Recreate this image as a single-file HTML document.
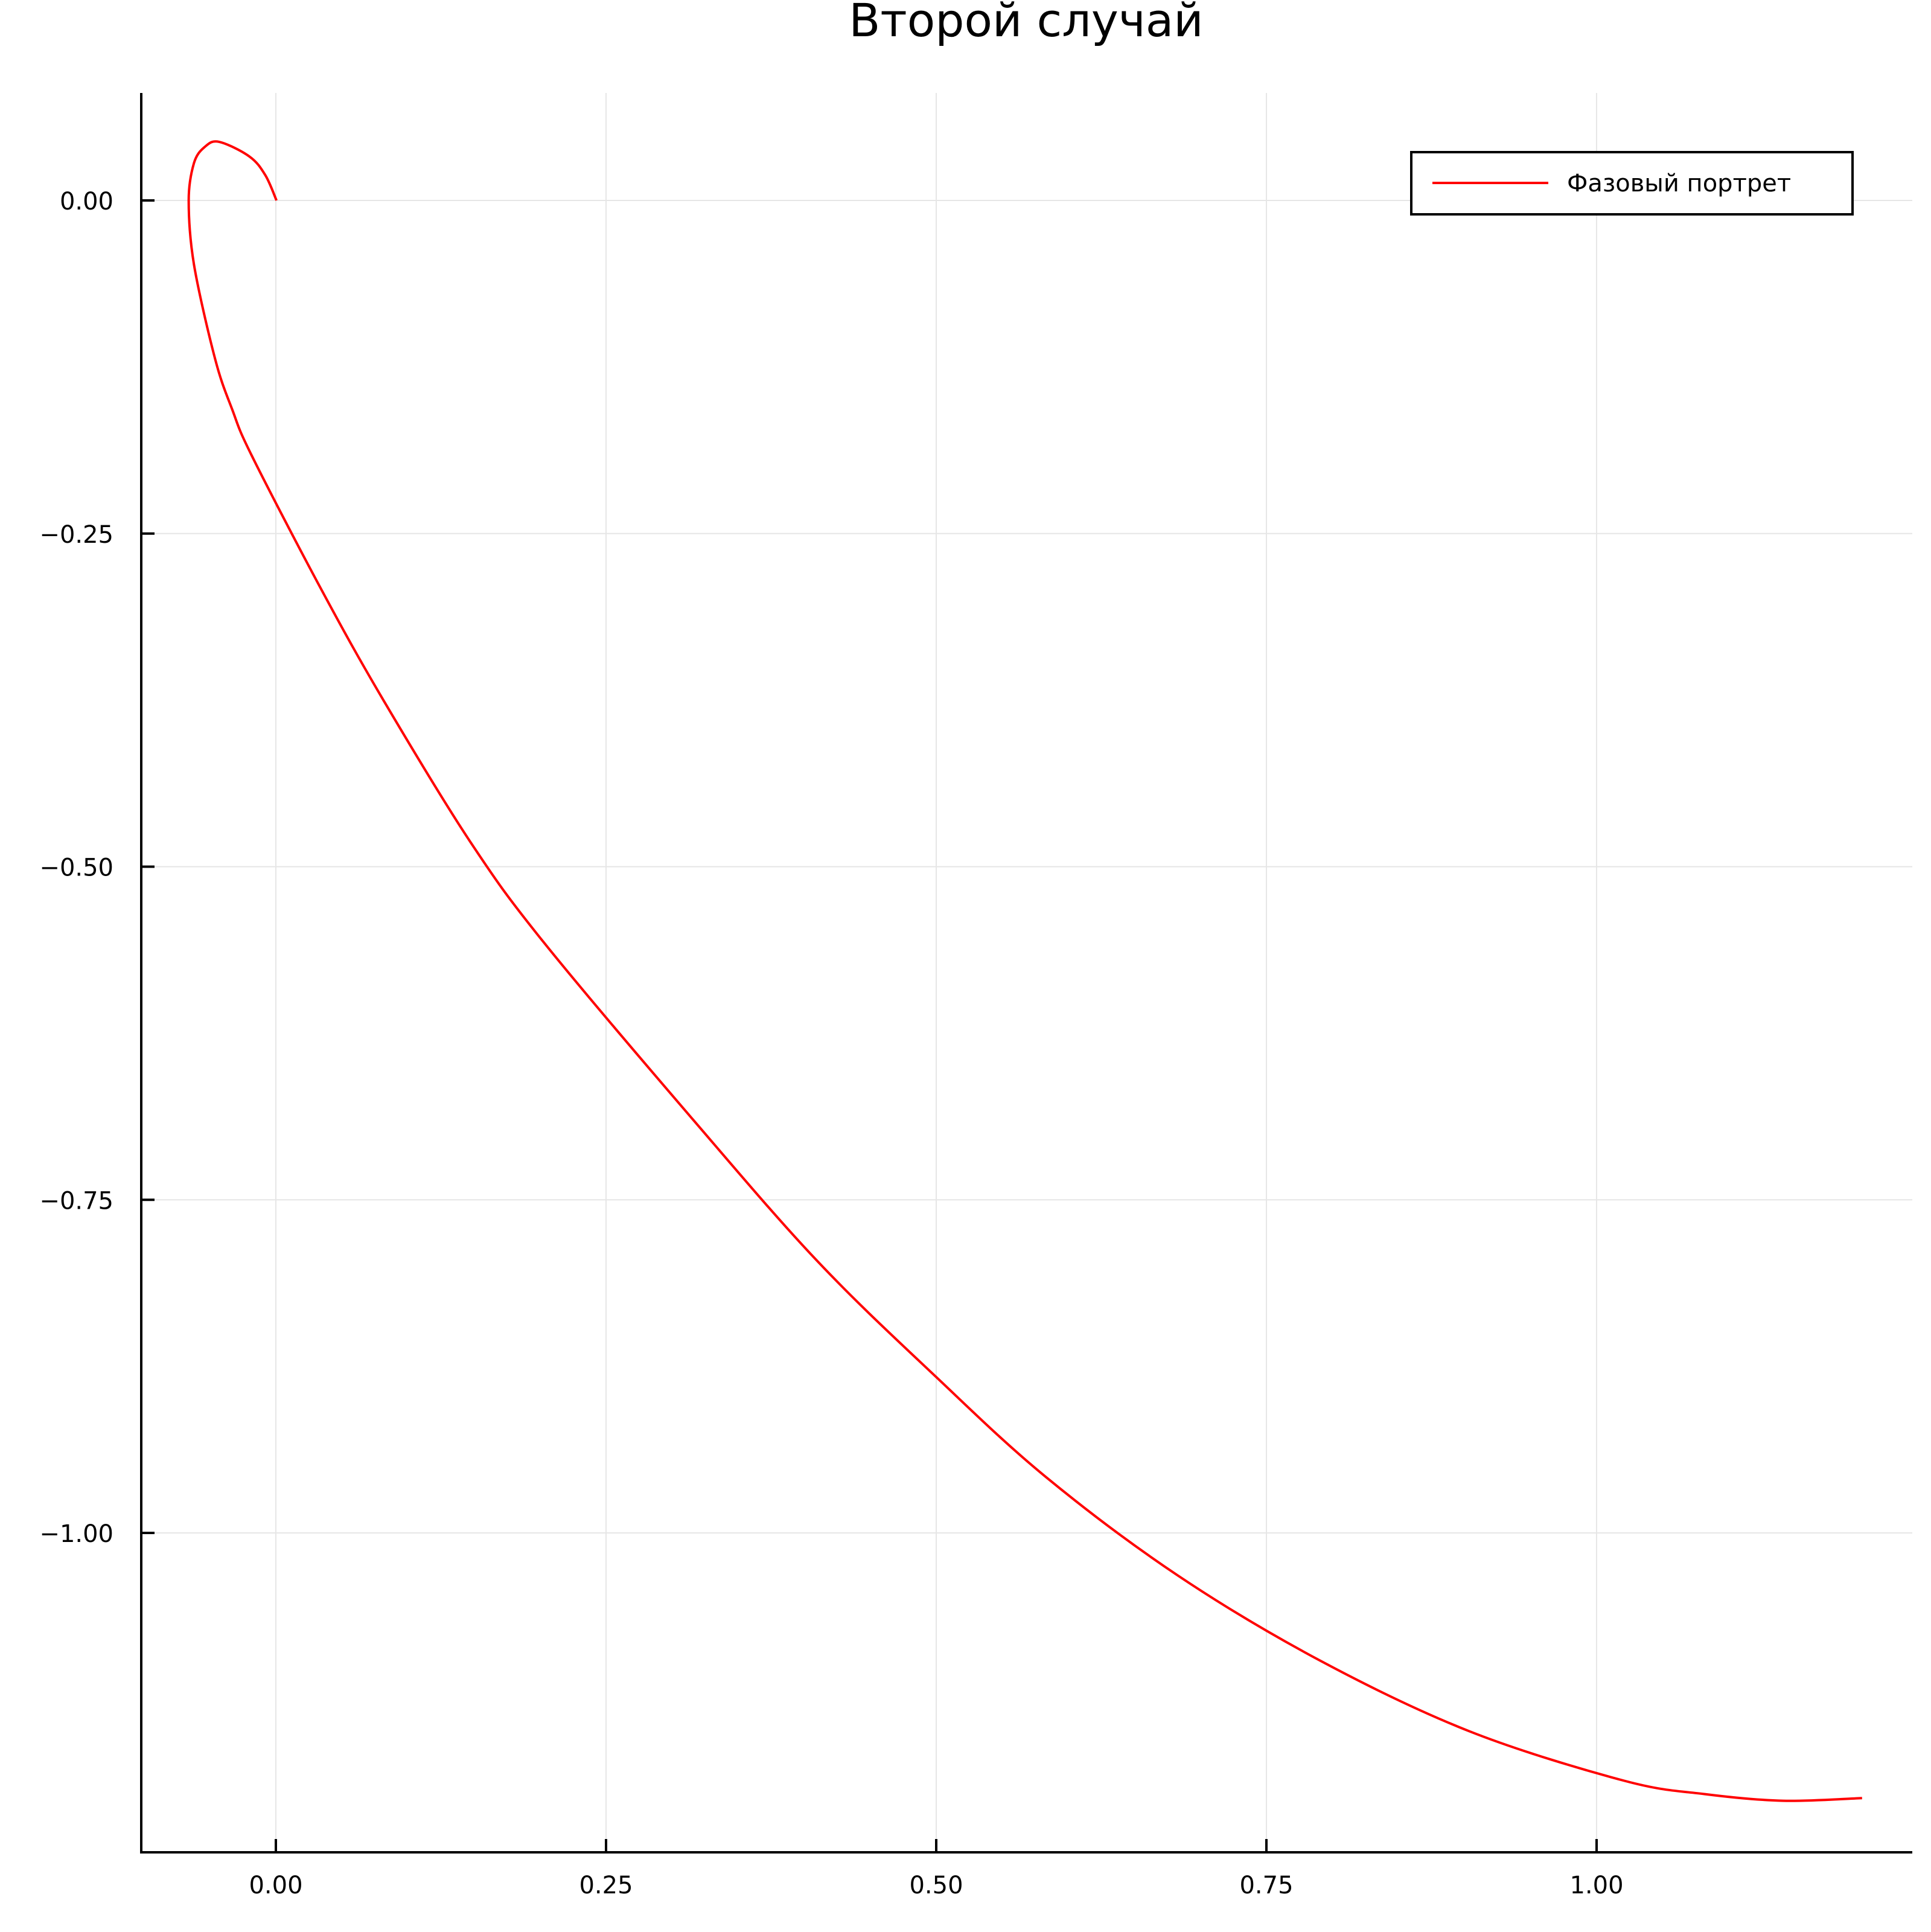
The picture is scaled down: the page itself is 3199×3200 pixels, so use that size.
<!DOCTYPE html>
<html><head><meta charset="utf-8"><style>
html,body{margin:0;padding:0;background:#fff}
svg{display:block}
text{font-family:"DejaVu Sans","Liberation Sans",sans-serif}
</style></head><body>
<svg id="chart" width="3199" height="3200" viewBox="0 0 3199 3200" xmlns="http://www.w3.org/2000/svg">
<rect width="3199" height="3200" fill="#fff"/>
<text x="1700" y="60" font-size="76" text-anchor="middle">Второй случай</text>
<g id="grid"></g>
<g id="axes"></g>
<path id="series" fill="none" stroke="#ff0000" stroke-width="4" stroke-linejoin="round"/>
<g>
<rect x="2338" y="252" width="731" height="103" fill="#fff" stroke="#000" stroke-width="4"/>
<line x1="2373" y1="303" x2="2565" y2="303" stroke="#ff0000" stroke-width="4"/>
<text x="2596" y="317" font-size="40">Фазовый портрет</text>
</g>
</svg>
<script>
const xTicks=[0,0.25,0.5,0.75,1.0];
const xTickLabels=["0.00","0.25","0.50","0.75","1.00"];
const yTicks=[0,-0.25,-0.5,-0.75,-1.0];
const yTickLabels=["0.00","\u22120.25","\u22120.50","\u22120.75","\u22121.00"];
const xs=[0.0005,-0.008,-0.020,-0.043,-0.054,-0.062,-0.066,-0.062,-0.046,-0.033,-0.018,0.035,0.082,0.147,0.203,0.316,0.410,0.500,0.583,0.683,0.791,0.904,1.021,1.082,1.141,1.201];
const ys=[0,0.019,0.033,0.044,0.040,0.028,0,-0.048,-0.119,-0.157,-0.192,-0.293,-0.376,-0.481,-0.557,-0.690,-0.796,-0.883,-0.958,-1.032,-1.096,-1.149,-1.186,-1.196,-1.201,-1.199];
const L=234,R=3168,T=154,B=3068;
const X=v=>457+v*2188;
const Y=v=>332-v*2207;
const NS="http://www.w3.org/2000/svg";
const grid=document.getElementById('grid'),axes=document.getElementById('axes');
function mk(tag,attrs,parent){const e=document.createElementNS(NS,tag);for(const k in attrs)e.setAttribute(k,attrs[k]);parent.appendChild(e);return e;}
xTicks.forEach((v,i)=>{
 const g=mk('line',{x1:X(v),x2:X(v),y1:T,y2:B,stroke:'#e6e6e6','stroke-width':2},grid);
 
 
 const t=mk('line',{x1:X(v),x2:X(v),y1:B,y2:B-22,stroke:'#000','stroke-width':4},axes);
 
 
 const l=mk('text',{x:X(v),y:B+68,'font-size':40,'text-anchor':'middle'},axes);
 l.textContent=xTickLabels[i];
 
 
});
yTicks.forEach((v,i)=>{
 const g=mk('line',{x1:L,x2:R,y1:Y(v),y2:Y(v),stroke:'#e6e6e6','stroke-width':2},grid);
 
 
 const t=mk('line',{x1:L,x2:L+22,y1:Y(v),y2:Y(v),stroke:'#000','stroke-width':4},axes);
 
 
 const l=mk('text',{x:L-46,y:Y(v)+15,'font-size':40,'text-anchor':'end'},axes);
 l.textContent=yTickLabels[i];
 
 
});
const ax=mk('path',{d:`M${L},${T} L${L},${B} L${R},${B}`,fill:'none',stroke:'#000','stroke-width':4},axes);


const P=xs.map((x,i)=>[X(x),Y(ys[i])]);
let d='M'+P[0][0].toFixed(1)+','+P[0][1].toFixed(1);
for(let i=0;i<P.length-1;i++){
 const p0=P[Math.max(i-1,0)],p1=P[i],p2=P[i+1],p3=P[Math.min(i+2,P.length-1)];
 const c1=[p1[0]+(p2[0]-p0[0])/6,p1[1]+(p2[1]-p0[1])/6];
 const c2=[p2[0]-(p3[0]-p1[0])/6,p2[1]-(p3[1]-p1[1])/6];
 d+=` C${c1[0].toFixed(1)},${c1[1].toFixed(1)} ${c2[0].toFixed(1)},${c2[1].toFixed(1)} ${p2[0].toFixed(1)},${p2[1].toFixed(1)}`;
}
document.getElementById('series').setAttribute('d',d);
</script>
</body></html>
